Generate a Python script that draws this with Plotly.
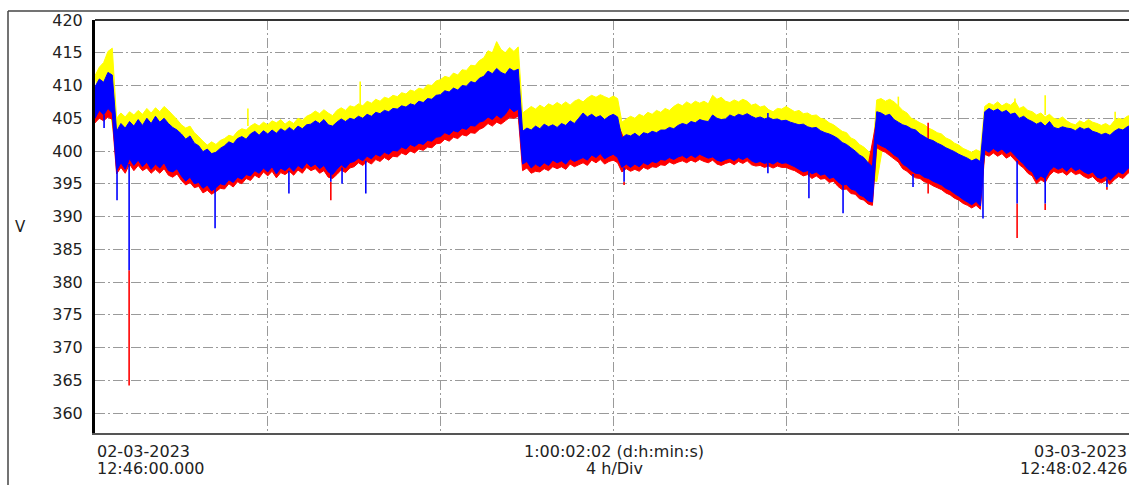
import plotly.graph_objects as go

# ---- data (V). Visible envelopes sampled every 0.1 h, hidden inner edges every 0.2 h ----
edge_step_h = 0.1      # sampling step of the visible envelope edges
inner_step_h = 0.2     # sampling step of the hidden inner edges

yellow_max = [
    411.5, 412.8, 413.5, 415.2, 415.7, 405.0, 405.8, 405.2, 406.0, 405.5,
    406.2, 405.6, 406.5, 405.8, 406.6, 406.0, 406.8, 406.2, 405.5, 404.8,
    404.0, 403.5, 403.8, 402.8, 402.2, 401.5, 400.9, 401.4, 401.0, 401.6,
    401.9, 402.4, 402.2, 403.0, 403.4, 403.2, 403.8, 404.2, 403.8, 404.4,
    404.0, 404.6, 404.3, 404.8, 404.1, 404.6, 404.2, 405.0, 404.7, 405.3,
    405.6, 406.1, 405.7, 406.3, 405.8, 405.4, 406.2, 406.6, 406.2, 406.9,
    406.7, 407.2, 406.9, 407.6, 407.3, 407.9, 407.6, 408.2, 408.0, 408.5,
    408.3, 408.9, 408.7, 409.3, 409.1, 409.6, 409.4, 410.1, 410.0, 410.7,
    410.9, 411.4, 411.2, 411.9, 411.6, 412.4, 412.3, 413.1, 413.0, 413.8,
    414.2, 415.3, 415.0, 416.7, 415.5, 415.0, 415.8, 415.2, 415.9, 405.8,
    406.3, 406.8, 406.4, 407.0, 406.6, 407.2, 406.9, 407.4, 407.0, 407.5,
    407.0, 407.6, 407.9, 407.5, 408.1, 408.5, 408.2, 408.6, 408.3, 408.0,
    408.4, 408.0, 404.4, 404.9, 405.3, 405.0, 405.6, 405.3, 405.9, 405.6,
    406.2, 405.9, 406.5, 406.2, 406.8, 407.2, 406.9, 407.5, 407.1, 407.6,
    407.3, 407.6, 407.2, 408.5, 407.9, 408.2, 407.6, 407.4, 407.8, 407.5,
    407.9, 407.6, 407.0, 407.2, 406.7, 406.9, 406.3, 406.0, 406.5, 406.4,
    406.8, 406.4, 406.0, 406.2, 405.7, 405.8, 405.4, 405.5, 405.0, 404.8,
    404.3, 404.0, 403.5, 403.0, 402.8, 402.0, 401.7, 401.0, 400.6, 400.0,
    399.4, 407.8, 408.0, 407.6, 407.9, 407.5, 406.9, 406.2, 405.8, 405.0,
    404.7, 404.3, 404.0, 403.5, 403.2, 402.8, 402.6, 402.0, 401.7, 401.2,
    400.9, 400.4, 400.1, 399.8, 400.2, 399.9, 406.8, 407.3, 407.0, 407.5,
    406.9, 407.3, 407.0, 407.6, 406.5, 406.8, 406.2, 406.0, 405.5, 405.8,
    405.2, 405.6, 405.0, 404.8, 405.2, 404.6, 404.2, 404.0, 404.6, 404.3,
    404.8, 404.4, 404.2, 403.9, 404.2, 403.8, 404.6, 405.0, 404.8, 405.3,
    405.5]
blue_max = [
    409.8, 411.0, 410.5, 412.0, 411.6, 403.0, 404.2, 403.5, 404.5, 403.8,
    404.8, 403.9, 405.0, 404.2, 405.3, 404.4, 405.0, 404.2, 403.6, 403.2,
    402.6, 401.8, 402.3, 401.2, 400.8, 399.9, 400.3, 399.6, 399.8, 400.4,
    400.8, 401.4, 401.1, 401.9, 402.2, 401.8, 402.6, 403.0, 402.4, 403.1,
    402.6, 403.2, 402.7, 403.4, 403.0, 403.6, 403.1, 403.8, 403.4, 404.0,
    404.1, 404.6, 404.2, 404.8, 404.0, 403.8, 404.4, 404.9, 404.5, 405.0,
    404.8, 405.3, 405.0, 405.6, 405.3, 405.9, 405.7, 406.2, 406.0, 406.5,
    406.4, 406.9, 406.7, 407.2, 407.0, 407.6, 407.4, 408.0, 407.9, 408.5,
    408.6, 409.2, 409.0, 409.6, 409.3, 410.0, 409.9, 410.6, 410.4, 411.1,
    411.4, 412.2, 411.8, 412.6, 412.0, 411.7, 412.6, 412.2, 412.5, 403.0,
    403.5, 403.2, 403.8, 403.4, 404.1, 403.7, 404.0, 403.6, 404.2, 403.9,
    404.6, 404.2, 405.0, 405.8, 405.2, 405.6, 405.1, 405.4, 404.8, 405.3,
    405.6, 405.2, 402.0, 402.5, 402.3, 402.7, 402.2, 402.8, 402.6, 403.0,
    402.8, 403.2, 403.2, 403.6, 403.4, 403.9, 404.2, 404.0, 404.5, 404.3,
    404.8, 404.6, 404.5, 405.5, 405.0, 404.8, 404.9, 405.5, 405.2, 405.6,
    405.4, 405.7, 405.3, 405.0, 405.2, 404.9, 405.1, 404.8, 404.9, 404.6,
    404.7, 404.4, 404.2, 404.0, 404.1, 403.7, 403.5, 403.6, 403.1, 402.8,
    402.6, 402.3, 401.9, 401.3, 401.0, 400.5, 400.0, 399.4, 399.0, 398.2,
    397.6, 406.0, 405.8, 405.4, 405.6, 404.8, 404.4, 404.0, 403.8, 403.4,
    403.2, 402.6, 402.2, 401.8, 401.6, 401.2, 400.9, 400.5, 400.2, 399.9,
    399.5, 399.2, 398.9, 398.5, 398.8, 398.4, 406.0, 406.5, 406.1, 406.4,
    405.9, 406.2, 405.6, 405.8, 405.0, 405.3, 404.8, 404.5, 404.1, 404.4,
    403.8, 404.5, 403.6, 403.4, 403.7, 403.5, 403.4, 403.1, 403.6, 403.3,
    403.5, 403.0, 402.8, 402.5, 402.7, 402.4, 403.0, 403.4, 403.2, 403.7,
    404.0]
blue_min = [
    405.0, 406.2, 405.5, 406.5, 405.8, 397.0, 398.2, 397.2, 398.8, 397.8,
    398.6, 397.6, 398.3, 397.2, 398.0, 397.4, 398.2, 397.0, 396.8, 397.3,
    396.2, 395.4, 396.0, 395.0, 395.2, 394.3, 394.8, 393.9, 394.4, 395.0,
    394.8, 395.6, 395.2, 396.0, 395.7, 396.4, 396.2, 397.0, 396.6, 397.4,
    396.8, 397.6, 396.5, 397.4, 397.0, 397.6, 396.9, 397.8, 397.3, 398.2,
    397.6, 398.0, 397.3, 397.8, 396.8, 396.4, 397.2, 397.9, 397.4, 398.2,
    398.4, 398.9, 398.5, 399.2, 398.8, 399.5, 399.2, 399.8, 399.5, 400.1,
    400.0, 400.6, 400.3, 401.0, 400.7, 401.2, 401.0, 401.6, 401.5, 402.1,
    402.2, 402.8, 402.5, 403.1, 402.9, 403.5, 403.3, 403.9, 403.8, 404.4,
    404.6, 405.2, 404.8, 405.5, 405.0, 405.6, 406.6, 406.0, 406.4, 398.0,
    398.4, 397.4, 398.0, 397.6, 398.2, 397.8, 398.6, 398.2, 398.5, 398.0,
    398.8, 398.4, 398.7, 399.0, 398.6, 399.4, 399.0, 399.6, 398.8, 399.2,
    399.5, 399.0, 397.5, 398.0, 397.5, 398.0, 397.6, 398.2, 397.9, 398.4,
    398.2, 398.7, 398.6, 399.0, 398.7, 399.1, 399.3, 398.9, 399.4, 399.0,
    399.5, 399.2, 398.9, 399.1, 398.6, 398.4, 398.7, 398.9, 398.5, 399.0,
    398.7, 399.1, 398.5, 398.2, 398.4, 398.1, 398.3, 398.0, 398.4, 398.1,
    398.2, 397.9, 397.6, 397.2, 396.8, 397.0, 396.5, 396.8, 396.3, 396.5,
    395.8, 396.0, 395.3, 394.8, 394.9, 394.2, 394.0, 393.3, 393.0, 392.4,
    392.2, 401.2, 400.8, 400.5, 400.0, 399.4, 399.0, 398.0, 397.6, 397.0,
    396.6, 396.5, 396.0, 395.8, 395.4, 395.1, 394.8, 394.3, 394.0, 393.5,
    393.1, 392.6, 392.2, 391.8, 392.3, 391.6, 400.2, 399.8, 400.4, 399.9,
    400.3, 399.6, 400.0, 399.3, 398.6, 398.0, 397.2, 396.8, 395.6, 396.2,
    395.8, 397.0, 397.6, 397.2, 397.5, 396.9, 397.6, 397.0, 397.3, 396.8,
    396.5, 396.8, 396.0, 395.8, 396.2, 395.5, 396.2, 396.8, 396.5, 397.2,
    397.8]
red_min = [
    404.3, 405.0, 404.6, 405.2, 404.8, 396.5, 397.5, 396.6, 398.0, 397.0,
    397.8, 397.0, 397.4, 396.6, 397.2, 396.6, 397.3, 396.3, 396.0, 396.5,
    395.5, 394.8, 395.2, 394.4, 394.6, 393.6, 394.0, 393.4, 393.8, 394.3,
    394.2, 395.0, 394.5, 395.3, 395.0, 395.8, 395.5, 396.3, 395.9, 396.8,
    396.2, 396.9, 395.9, 396.7, 396.4, 396.9, 396.3, 397.1, 396.6, 397.5,
    397.0, 397.3, 396.6, 397.0, 396.0, 395.8, 396.4, 397.1, 396.7, 397.4,
    397.6, 398.2, 397.8, 398.4, 398.0, 398.7, 398.4, 399.0, 398.6, 399.2,
    399.1, 399.7, 399.4, 400.0, 399.7, 400.3, 400.1, 400.6, 400.5, 401.1,
    401.2, 401.8, 401.5, 402.1, 401.9, 402.5, 402.3, 402.8, 402.7, 403.3,
    403.6, 404.2, 403.8, 404.4, 404.1, 404.6, 405.1, 405.0, 405.3, 397.0,
    397.4, 396.6, 396.9, 396.8, 397.3, 397.0, 397.6, 397.3, 397.6, 397.2,
    398.0, 397.6, 397.9, 398.2, 397.8, 398.6, 398.2, 398.7, 398.0, 398.4,
    398.6, 398.2, 396.8, 397.3, 396.9, 397.2, 396.9, 397.5, 397.2, 397.6,
    397.5, 397.9, 397.8, 398.3, 398.0, 398.3, 398.5, 398.2, 398.6, 398.3,
    398.7, 398.4, 398.2, 398.6, 398.0, 397.8, 398.1, 398.3, 397.9, 398.4,
    398.1, 398.5, 397.9, 397.7, 397.8, 397.5, 397.7, 397.4, 397.7, 397.5,
    397.5, 397.2, 397.0, 396.6, 396.2, 396.4, 395.8, 396.2, 395.7, 395.8,
    395.2, 395.4, 394.6, 394.1, 394.2, 393.5, 393.4, 392.7, 392.5, 391.9,
    391.7, 400.5, 400.1, 399.8, 399.3, 398.8, 398.3, 397.3, 396.9, 396.3,
    395.9, 395.8, 395.3, 395.1, 394.7, 394.4, 394.1, 393.6, 393.3, 392.8,
    392.5, 392.0, 391.7, 391.3, 391.7, 391.1, 399.5, 399.2, 399.7, 399.2,
    399.6, 398.9, 399.3, 398.6, 397.9, 397.4, 396.6, 396.2, 395.0, 395.6,
    395.2, 396.3, 396.9, 396.6, 396.8, 396.3, 396.9, 396.4, 396.6, 396.1,
    395.8, 396.1, 395.4, 395.1, 395.5, 394.9, 395.6, 396.1, 395.8, 396.5,
    397.0]
# hidden inner edges (mostly covered by the blue phase)
yellow_min = [407.5, 408.0, 400.0, 400.6, 401.0, 401.2, 401.0, 400.8, 401.3, 400.2,
              399.4, 398.8, 397.9, 397.0, 397.2, 397.8, 398.6, 399.0, 399.7, 400.5,
              399.6, 400.2, 400.4, 400.0, 401.0, 400.9, 401.0, 400.2, 400.8, 401.4,
              401.8, 401.6, 402.3, 402.6, 403.1, 403.5, 403.9, 404.2, 404.8, 405.2,
              405.8, 406.2, 406.8, 407.2, 407.8, 408.4, 408.8, 408.7, 409.6, 401.0,
              400.7, 400.5, 401.0, 401.2, 401.2, 401.7, 401.4, 402.4, 402.6, 401.9,
              402.4, 399.8, 400.2, 400.0, 400.5, 400.8, 401.0, 401.4, 401.8, 401.7,
              402.0, 401.8, 402.2, 401.6, 402.1, 402.4, 401.9, 401.6, 401.5, 401.5,
              401.2, 400.8, 400.4, 400.0, 399.7, 399.2, 398.5, 397.8, 397.0, 396.0,
              395.3, 403.0, 402.8, 401.8, 400.6, 400.0, 399.2, 398.6, 398.0, 397.1,
              396.2, 395.6, 395.1, 403.0, 403.1, 403.0, 402.6, 401.7, 400.7, 399.7,
              400.5, 400.5, 400.2, 400.4, 400.2, 399.8, 399.4, 399.1, 399.5, 400.2,
              401.0]
red_max = [409.3, 410.6, 402.8, 402.5, 402.6, 403.4, 403.0, 404.0, 403.6, 402.8,
           401.2, 400.6, 399.8, 398.8, 398.2, 399.2, 400.2, 400.8, 401.2, 401.8,
           401.3, 401.8, 402.2, 402.4, 402.5, 403.0, 403.2, 402.8, 403.3, 403.5,
           403.8, 403.8, 404.2, 404.8, 405.1, 405.5, 405.8, 406.3, 406.7, 407.3,
           407.8, 408.2, 408.8, 409.3, 409.7, 410.7, 411.2, 410.8, 411.3, 402.3,
           402.0, 402.3, 402.8, 402.5, 402.8, 403.3, 403.1, 404.5, 404.3, 403.8,
           404.2, 401.0, 401.3, 401.1, 401.6, 401.8, 402.1, 402.6, 403.1, 403.3,
           403.6, 403.3, 404.3, 403.6, 404.3, 404.5, 404.1, 403.8, 404.0, 403.6,
           403.3, 403.0, 402.8, 402.3, 401.8, 401.3, 400.6, 399.8, 398.8, 397.8,
           404.8, 404.6, 404.3, 403.3, 402.6, 402.0, 401.5, 400.5, 399.8, 399.0,
           398.3, 397.8, 397.3, 405.0, 405.1, 404.8, 404.6, 403.8, 403.3, 402.8,
           403.3, 402.3, 402.3, 402.1, 402.3, 402.0, 401.6, 401.3, 401.8, 402.3,
           402.8]

# isolated transients: time (h), start value (V), end value (V)
blue_spike_t = [0.21, 0.51, 0.79, 2.78, 4.49, 5.46, 5.72, 6.27, 12.25, 15.58,
                15.58, 16.53, 17.32, 18.94, 20.56, 21.35, 22.00, 23.43]
blue_spike_from = [405.5, 397.0, 398.0, 394.5, 397.0, 397.0, 397.5, 398.5, 397.5, 398.3,
                   404.5, 396.8, 394.8, 396.5, 398.0, 398.5, 396.5, 395.8]
blue_spike_to = [403.5, 392.5, 381.8, 388.2, 393.5, 395.3, 395.0, 393.5, 395.3, 396.6,
                 405.8, 392.8, 390.5, 394.5, 389.7, 392.0, 392.0, 394.5]
red_spike_t = [0.79, 5.46, 12.25, 19.29, 19.29, 21.35, 22.00, 23.43]
red_spike_from = [381.8, 395.3, 395.3, 395.5, 401.5, 392.0, 392.0, 394.5]
red_spike_to = [364.2, 392.5, 394.8, 393.5, 404.3, 386.7, 391.0, 394.1]
yellow_spike_t = [3.54, 6.14, 18.60, 21.30, 22.00, 23.62]
yellow_spike_from = [403.8, 406.5, 406.8, 406.5, 405.5, 404.5]
yellow_spike_to = [406.5, 410.6, 408.3, 408.0, 408.5, 406.0]

y_ticks = [360, 365, 370, 375, 380, 385, 390, 395, 400, 405, 410, 415, 420]
x_grid_hours = [4, 8, 12, 16, 20]
total_hours = 24.034
start_label = ["02-03-2023", "12:46:00.000"]
mid_label = ["1:00:02:02 (d:h:min:s)", "4 h/Div"]
end_label = ["03-03-2023", "12:48:02.426"]

FONT = "DejaVu Sans"
TXT = "#222222"
YEL, RED, BLU = "#FFFF00", "#FF0000", "#0000FF"


def times(n, step, offset=0.0):
    return [offset + i * step for i in range(n)]


def band_trace(top_t, top_v, bot_t, bot_v, color):
    xs = list(top_t) + list(bot_t)[::-1] + [top_t[0]]
    ys = list(top_v) + list(bot_v)[::-1] + [top_v[0]]
    return go.Scatter(x=xs, y=ys, mode="lines", fill="toself", fillcolor=color,
                      line=dict(color=color, width=1.0, simplify=False),
                      hoverinfo="skip", showlegend=False)


def spike_trace(ts, y0s, y1s, color):
    xs, ys = [], []
    for t, a, b in zip(ts, y0s, y1s):
        xs += [t, t, None]
        ys += [a, b, None]
    return go.Scatter(x=xs, y=ys, mode="lines",
                      line=dict(color=color, width=1.6, simplify=False),
                      hoverinfo="skip", showlegend=False, connectgaps=False)


t_edge = times(len(blue_max), edge_step_h)
t_inner = times(len(yellow_min), inner_step_h, inner_step_h / 2)

fig = go.Figure()
fig.add_trace(band_trace(t_edge, yellow_max, t_inner, yellow_min, YEL))
fig.add_trace(spike_trace(yellow_spike_t, yellow_spike_from, yellow_spike_to, YEL))
fig.add_trace(band_trace(t_inner, red_max, t_edge, red_min, RED))
fig.add_trace(spike_trace(red_spike_t, red_spike_from, red_spike_to, RED))
fig.add_trace(band_trace(t_edge, blue_max, t_edge, blue_min, BLU))
fig.add_trace(spike_trace(blue_spike_t, blue_spike_from, blue_spike_to, BLU))

W, H = 1129, 485
ML, MR, MT, MB = 95, 0, 20, 52
px_per_hour = 43.19
x_max = (W - ML - MR) / px_per_hour
plot_h = H - MT - MB
y_min = 420 - plot_h / 6.55


def px_x(px):
    return (px - ML) / (W - ML - MR)


def px_y(py):
    return (H - MB - py) / plot_h


grid_dash = "10px,3px,2px,3px"
fig.update_layout(
    width=W, height=H,
    margin=dict(l=ML, r=MR, t=MT, b=MB),
    paper_bgcolor="white", plot_bgcolor="white",
    showlegend=False,
    font=dict(family=FONT, size=16, color=TXT),
    xaxis=dict(range=[0, x_max], tickvals=x_grid_hours, showticklabels=False,
               ticks="", showgrid=True, gridcolor="#9a9a9a", gridwidth=1,
               griddash=grid_dash, zeroline=False,
               showline=True, linecolor="#555555", linewidth=2),
    yaxis=dict(range=[y_min, 420], tickvals=y_ticks,
               ticktext=[str(v) for v in y_ticks], ticks="",
               ticklabelstandoff=6,
               showgrid=True, gridcolor="#9a9a9a", gridwidth=1,
               griddash=grid_dash, zeroline=False,
               showline=True, linecolor="#000000", linewidth=3,
               tickfont=dict(family=FONT, size=16, color=TXT)),
)

# plot top border and outer frame
fig.add_shape(type="line", xref="paper", yref="paper", x0=0, x1=1.01, y0=1, y1=1,
              line=dict(color="#333333", width=2))
fig.add_shape(type="line", xref="paper", yref="paper",
              x0=px_x(8), x1=1.01, y0=px_y(11), y1=px_y(11),
              line=dict(color="#444444", width=1.5))
fig.add_shape(type="line", xref="paper", yref="paper",
              x0=px_x(8), x1=px_x(8), y0=px_y(11), y1=px_y(490),
              line=dict(color="#444444", width=1.5))

# axis title
fig.add_annotation(text="V", xref="paper", yref="paper", x=px_x(20), y=px_y(227),
                   xanchor="center", yanchor="middle",
                   showarrow=False, font=dict(family=FONT, size=15, color=TXT))

# time labels (two lines each), kept fully inside the window
end_px = ML + total_hours * px_per_hour
for i, yy in enumerate([451, 468]):
    fig.add_annotation(text=start_label[i], xref="paper", yref="paper", x=0, y=px_y(yy),
                       xanchor="left", yanchor="middle", showarrow=False)
    fig.add_annotation(text=mid_label[i], xref="paper", yref="paper",
                       x=px_x(ML + total_hours / 2 * px_per_hour),
                       y=px_y(yy), xanchor="center", yanchor="middle", showarrow=False)
    fig.add_annotation(text=end_label[i], xref="paper", yref="paper", x=px_x(end_px - 4),
                       y=px_y(yy), xanchor="right", yanchor="middle", showarrow=False)

fig.write_html("out.html", config={"displayModeBar": False},
               post_script="document.body.style.margin='0';document.body.style.overflow='hidden';")
